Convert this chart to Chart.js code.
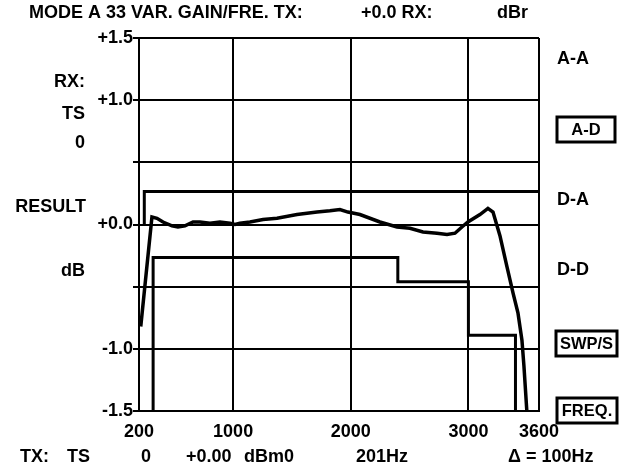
<!DOCTYPE html>
<html><head><meta charset="utf-8">
<script src="https://cdn.jsdelivr.net/npm/chart.js@4.4.1/dist/chart.umd.min.js"></script>
<style>html,body{margin:0;padding:0;background:#fff}#wrap{width:641px;height:471px}</style>
</head><body><div id="wrap"><canvas id="c" width="641" height="471"></canvas></div>
<script>
// ---- data ----
const xTicks = [200, 1000, 2000, 3000, 3600];
const yTicks = [-1.5, -1.0, -0.5, 0.0, 0.5, 1.0, 1.5];
const responseHz = [215, 310, 353, 404, 480, 531, 591, 659, 718, 803, 888, 973, 1016, 1058, 1143, 1254, 1373, 1543, 1713, 1823, 1908, 1976, 2078, 2248, 2393, 2503, 2614, 2733, 2818, 2886, 2945, 2996, 3098, 3166, 3209, 3268, 3328, 3379, 3421, 3455, 3472, 3500];
const responseDb = [-0.82, 0.06, 0.05, 0.02, -0.01, -0.02, -0.01, 0.02, 0.02, 0.01, 0.02, 0.01, 0.0, 0.01, 0.02, 0.04, 0.05, 0.08, 0.10, 0.11, 0.12, 0.10, 0.08, 0.02, -0.02, -0.03, -0.06, -0.07, -0.08, -0.07, -0.02, 0.02, 0.08, 0.13, 0.10, -0.09, -0.34, -0.55, -0.71, -0.93, -1.14, -1.55];
const upperMaskHz = [245, 245, 3600];
const upperMaskDb = [0.0, 0.265, 0.265];
const lowerMaskHz = [320, 320, 2400, 2400, 3000, 3000, 3400, 3400];
const lowerMaskDb = [-1.5, -0.265, -0.265, -0.46, -0.46, -0.89, -0.89, -1.5];

const pts = (xs, ys) => xs.map((x, i) => ({x, y: ys[i]}));
const FAMILY = '"Liberation Sans", Arial, sans-serif';
const FONT = 'bold 18px ' + FAMILY;

const textPlugin = {
  id: 'texts',
  afterDraw(chart) {
    const ctx = chart.ctx;
    ctx.save();
    ctx.fillStyle = '#000';
    ctx.strokeStyle = '#000';
    ctx.font = FONT;
    ctx.textBaseline = 'middle';
    ctx.textAlign = 'left';
    ctx.fillText('MODE A 33 VAR. GAIN/FRE. TX:', 29, 13);
    ctx.fillText('+0.0 RX:', 361, 13);
    ctx.fillText('dBr', 497, 13);
    ctx.textAlign = 'right';
    ctx.fillText('RX:', 85, 82);
    ctx.fillText('TS', 85, 114);
    ctx.fillText('0', 85, 143);
    ctx.fillText('RESULT', 86, 207);
    ctx.fillText('dB', 85, 271);
    ctx.textAlign = 'left';
    ctx.fillText('A-A', 557, 59);
    ctx.fillText('D-A', 557, 200);
    ctx.fillText('D-D', 557, 270);
    ctx.textAlign = 'center';
    ctx.lineWidth = 3;
    ctx.font = 'bold 16.5px ' + FAMILY;
    const boxes = [['A-D', 557, 117, 58, 25], ['SWP/S', 556, 331, 61, 25], ['FREQ.', 557, 398, 60, 25]];
    for (const [t, x, y, w, h] of boxes) {
      ctx.strokeRect(x, y, w, h);
      ctx.fillText(t, x + w / 2, y + h / 2 + 1);
    }
    ctx.font = FONT;
    ctx.textAlign = 'left';
    ctx.fillText('TX:', 20, 457);
    ctx.fillText('TS', 67, 457);
    ctx.textAlign = 'center';
    ctx.fillText('0', 146, 457);
    ctx.textAlign = 'left';
    ctx.fillText('+0.00', 186, 457);
    ctx.fillText('dBm0', 244, 457);
    ctx.fillText('201Hz', 356, 457);
    ctx.fillText('\u0394 = 100Hz', 508, 457);
    ctx.restore();
  }
};

const lineStyle = {borderColor: '#000', borderWidth: 3, pointRadius: 0, showLine: true, fill: false, tension: 0};

new Chart(document.getElementById('c'), {
  type: 'scatter',
  data: {
    datasets: [
      Object.assign({data: pts(upperMaskHz, upperMaskDb)}, lineStyle),
      Object.assign({data: pts(lowerMaskHz, lowerMaskDb)}, lineStyle),
      Object.assign({data: pts(responseHz, responseDb)}, lineStyle, {borderWidth: 3.5})
    ]
  },
  options: {
    responsive: false,
    animation: false,
    devicePixelRatio: 1,
    layout: {padding: {left: 0, right: 102, top: 38, bottom: 0}},
    plugins: {legend: {display: false}, tooltip: {enabled: false}},
    scales: {
      x: {
        type: 'linear', min: 200, max: 3600,
        afterBuildTicks: s => { s.ticks = xTicks.map(v => ({value: v})); },
        afterFit: s => { s.height = 60; },
        grid: {color: '#000', lineWidth: 2, drawTicks: false},
        border: {color: '#000', width: 2},
        ticks: {color: '#000', font: {family: FAMILY, size: 18, weight: 'bold'}, padding: 10, maxRotation: 0, autoSkip: false,
          callback: v => String(v)}
      },
      y: {
        type: 'linear', min: -1.5, max: 1.5,
        afterBuildTicks: s => { s.ticks = yTicks.map(v => ({value: v})); },
        afterFit: s => { s.width = 139; },
        grid: {color: '#000', lineWidth: 2, tickLength: 6},
        border: {color: '#000', width: 2},
        ticks: {color: '#000', padding: 0, font: {family: FAMILY, size: 18, weight: 'bold'},
          callback: v => Math.abs(Math.abs(v) - 0.5) < 1e-9 ? '' : (v >= 0 ? '+' : '') + v.toFixed(1)}
      }
    }
  },
  plugins: [textPlugin]
});
</script></body></html>
